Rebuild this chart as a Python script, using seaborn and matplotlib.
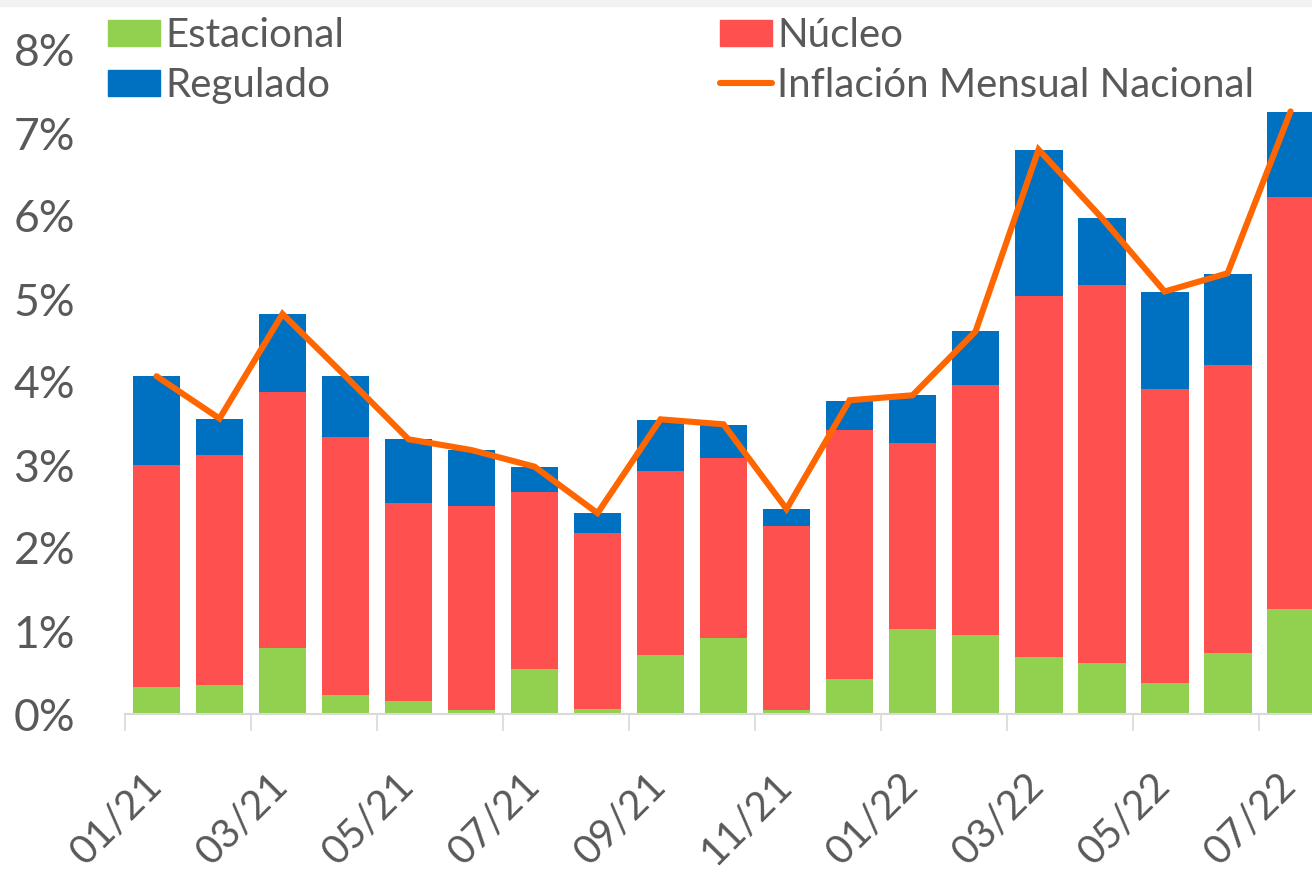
import numpy as np
import pandas as pd
import matplotlib.pyplot as plt
import seaborn as sns
from matplotlib.patches import Patch, Rectangle
from matplotlib.lines import Line2D

# Monthly inflation decomposition (percentage points)
meses = ["01/21", "02/21", "03/21", "04/21", "05/21", "06/21", "07/21", "08/21",
         "09/21", "10/21", "11/21", "12/21", "01/22", "02/22", "03/22", "04/22",
         "05/22", "06/22", "07/22"]
estacional = [0.33, 0.35, 0.80, 0.23, 0.16, 0.05, 0.54, 0.06, 0.71, 0.92,
              0.05, 0.42, 1.02, 0.95, 0.69, 0.61, 0.37, 0.74, 1.27]
nucleo = [2.67, 2.77, 3.08, 3.11, 2.38, 2.46, 2.13, 2.12, 2.22, 2.17,
          2.21, 3.00, 2.24, 3.01, 4.35, 4.56, 3.54, 3.46, 4.96]
regulado = [1.07, 0.44, 0.94, 0.73, 0.77, 0.67, 0.31, 0.24, 0.61, 0.39,
            0.21, 0.35, 0.58, 0.65, 1.75, 0.81, 1.17, 1.10, 1.02]
inflacion = [4.07, 3.56, 4.82, 4.07, 3.31, 3.18, 2.98, 2.42, 3.55, 3.49,
             2.47, 3.78, 3.84, 4.61, 6.80, 5.98, 5.09, 5.31, 7.26]
y_ticks = [0, 1, 2, 3, 4, 5, 6, 7, 8]

VERDE = "#92D050"
ROJO = "#FF5050"
AZUL = "#0070C0"
NARANJA = "#FF6600"
TEXTO = "#595959"
EJE = "#D9D9D9"

sns.set_theme(style="white")
plt.rcParams["font.family"] = ["Lato", "DejaVu Sans"]

df = pd.DataFrame({"mes": meses, "Estacional": estacional,
                   "Núcleo": nucleo, "Regulado": regulado})
# cumulative tops for the stacked look (drawn back to front)
df["c1"] = df["Estacional"]
df["c2"] = df["c1"] + df["Núcleo"]
df["c3"] = df["c2"] + df["Regulado"]

W, H = 1312, 872
fig = plt.figure(figsize=(W / 100, H / 100), dpi=100)
ax = fig.add_axes([125 / W, (H - 714) / H, 1 - 125 / W, 664 / H])

for col, color in [("c3", AZUL), ("c2", ROJO), ("c1", VERDE)]:
    sns.barplot(data=df, x="mes", y=col, color=color, width=0.76,
                saturation=1, errorbar=None, linewidth=0, ax=ax)

sns.lineplot(x=meses, y=inflacion, color=NARANJA, lw=4.4, sort=False,
             solid_joinstyle="miter", ax=ax)

ax.set_xlim(-0.5, 18.34)
ax.set_ylim(0, 8)
ax.set_xlabel("")
ax.set_ylabel("")

# tick marks between categories, labels at every other month
ax.set_xticks(np.arange(-0.5, 18, 2))
ax.set_xticklabels([""] * len(np.arange(-0.5, 18, 2)))
ax.set_xticks(np.arange(0, len(meses), 2), minor=True)
ax.set_xticklabels(meses[::2], minor=True)
ax.tick_params(axis="x", which="major", bottom=True, length=12, width=1.2,
               color=EJE)
ax.tick_params(axis="x", which="minor", bottom=True, length=0, pad=47,
               labelsize=29, labelcolor=TEXTO)
for lbl in ax.get_xticklabels(minor=True):
    lbl.set_rotation(45)
    lbl.set_ha("right")
    lbl.set_va("center")
    lbl.set_rotation_mode("anchor")

ax.set_yticks(y_ticks)
ax.set_yticklabels([f"{v}%" for v in y_ticks])
ax.tick_params(axis="y", length=0, pad=36, labelsize=32, labelcolor=TEXTO)

for s in ["top", "right", "left"]:
    ax.spines[s].set_visible(False)
ax.spines["bottom"].set_color(EJE)
ax.spines["bottom"].set_linewidth(1.5)

# legend in two separate columns
h_left = [Patch(color=VERDE, label="Estacional"),
          Patch(color=AZUL, label="Regulado")]
h_right = [Patch(color=ROJO, label="Núcleo"),
           Line2D([], [], color=NARANJA, lw=4.4, solid_capstyle="round",
                  label="Inflación Mensual Nacional")]
leg_kw = dict(loc="upper left", frameon=False, fontsize=29, handlelength=1.3,
              handleheight=0.62, handletextpad=0.12, labelspacing=0.32,
              borderpad=0, borderaxespad=0, labelcolor=TEXTO)
fig.legend(handles=h_left, bbox_to_anchor=(108 / W, 1 - 17 / H), **leg_kw)
fig.legend(handles=h_right, bbox_to_anchor=(720 / W, 1 - 17 / H), **leg_kw)

fig.add_artist(Rectangle((0, 1 - 6 / H), 1, 6 / H, transform=fig.transFigure,
                         color="#F2F2F2", zorder=0))

fig.savefig("out.png", dpi=100)
